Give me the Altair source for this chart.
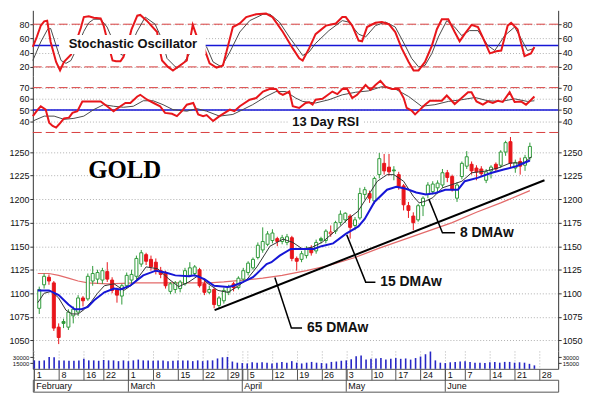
import altair as alt
import pandas as pd

# ---------------- data ----------------
tick_idx = [0, 5, 10, 14, 19, 24, 29, 34, 39, 42, 43, 48, 53, 58, 63, 68, 73, 78, 83, 87, 92, 97, 102]
tick_lbl = ["1", "8", "16", "22", "1", "8", "15", "22", "29", "", "5", "12", "19", "26",
            "3", "10", "17", "24", "1", "7", "14", "21", "28"]
grid_idx = [0, 5, 10, 14, 19, 24, 29, 34, 39, 43, 48, 53, 58, 63, 68, 73, 78, 83, 87, 92, 97, 102]
month_idx = [0, 19, 42, 63, 83]
month_lbl = ["February", "March", "April", "May", "June"]

opens = [1084, 1109, 1117, 1111, 1064, 1070, 1064, 1076, 1080, 1095,
         1094, 1113, 1115, 1114, 1123, 1114, 1104, 1097, 1108, 1114,
         1118, 1131, 1141, 1136, 1133, 1124, 1121, 1102, 1104, 1105,
         1110, 1119, 1121, 1125, 1110, 1101, 1104, 1087, 1092, 1101,
         1110, 1106, 1115, 1122, 1127, 1138, 1146, 1152, 1156, 1158,
         1155, 1154, 1159, 1137, 1136, 1140, 1148, 1145, 1158, 1156,
         1163, 1166, 1175, 1178, 1182, 1172, 1180, 1205, 1206, 1198,
         1226, 1238, 1234, 1231, 1226, 1214, 1193, 1182, 1178, 1193,
         1205, 1208, 1212, 1215, 1228, 1224, 1201, 1224, 1235, 1237,
         1233, 1232, 1220, 1230, 1237, 1236, 1250, 1261, 1233, 1240,
         1236, 1244]
highs = [1107, 1121, 1120, 1113, 1068, 1073, 1083, 1086, 1098, 1097,
         1121, 1129, 1125, 1127, 1133, 1117, 1106, 1110, 1122, 1125,
         1140, 1146, 1143, 1140, 1137, 1128, 1124, 1112, 1113, 1114,
         1127, 1133, 1130, 1127, 1113, 1108, 1106, 1097, 1106, 1109,
         1112, 1118, 1127, 1134, 1138, 1154, 1170, 1166, 1168, 1160,
         1162, 1163, 1161, 1139, 1145, 1150, 1151, 1157, 1160, 1168,
         1172, 1177, 1188, 1186, 1184, 1181, 1212, 1213, 1209, 1224,
         1249, 1248, 1248, 1235, 1229, 1216, 1197, 1186, 1195, 1203,
         1218, 1219, 1220, 1232, 1231, 1226, 1218, 1240, 1251, 1240,
         1236, 1235, 1232, 1236, 1239, 1252, 1262, 1266, 1242, 1244,
         1247, 1260]
lows = [1078, 1105, 1109, 1060, 1046, 1063, 1061, 1068, 1076, 1086,
        1092, 1108, 1110, 1110, 1112, 1100, 1090, 1088, 1105, 1110,
        1115, 1128, 1130, 1124, 1120, 1116, 1105, 1099, 1100, 1101,
        1108, 1117, 1118, 1106, 1098, 1099, 1084, 1083, 1089, 1098,
        1102, 1104, 1113, 1119, 1125, 1136, 1143, 1150, 1153, 1150,
        1152, 1151, 1134, 1124, 1133, 1137, 1140, 1142, 1153, 1153,
        1160, 1163, 1172, 1175, 1158, 1167, 1178, 1200, 1196, 1195,
        1222, 1226, 1225, 1220, 1210, 1188, 1180, 1167, 1176, 1182,
        1201, 1205, 1206, 1212, 1218, 1208, 1197, 1221, 1232, 1226,
        1220, 1224, 1217, 1222, 1229, 1233, 1246, 1233, 1228, 1226,
        1230, 1241]
closes = [1104, 1118, 1113, 1063, 1053, 1068, 1080, 1083, 1095, 1092,
          1118, 1121, 1122, 1124, 1115, 1103, 1098, 1108, 1119, 1120,
          1137, 1143, 1134, 1128, 1124, 1120, 1108, 1110, 1111, 1112,
          1124, 1127, 1128, 1108, 1101, 1104, 1088, 1095, 1103, 1107,
          1106, 1116, 1124, 1132, 1136, 1151, 1155, 1163, 1164, 1155,
          1159, 1160, 1137, 1134, 1142, 1147, 1143, 1154, 1156, 1166,
          1165, 1175, 1184, 1185, 1170, 1178, 1206, 1210, 1201, 1222,
          1243, 1230, 1229, 1230, 1213, 1194, 1188, 1175, 1193, 1201,
          1215, 1216, 1217, 1228, 1223, 1210, 1215, 1238, 1245, 1230,
          1229, 1227, 1229, 1234, 1232, 1250, 1260, 1238, 1239, 1235,
          1244, 1256]
volume = [22000, 21000, 22000, 31000, 30000, 22000, 22000, 21000, 21000, 22000,
          26000, 22000, 22000, 21000, 23000, 22000, 22000, 20000, 22000,
          20000, 22000, 24000, 22000, 22000, 21000, 22000, 22000, 20000, 21000,
          22000, 22000, 22000, 20000, 22000, 20000, 22000, 22000, 27000, 30000,
          31000, 19000, 16000,
          15000, 14000, 17000, 16000, 17000, 16000, 14000, 16000, 18000, 16000,
          20000, 16000, 14000, 16000, 18000, 16000, 15000, 14000, 18000, 19000, 21000,
          22000, 25000, 33000, 35000, 24000, 26000, 27000, 28000, 24000, 26000,
          28000, 26000, 27000, 24000, 28000, 32000, 38000, 45000, 22000, 16000,
          15000, 17000, 18000, 19000, 20000, 18000, 16000, 16000, 15000, 17000,
          18000, 16000, 18000, 18000, 16000, 17000, 16000, 13000, 9000]

ma8_i = [-0.3, 1, 2.5, 4, 5.5, 6.7, 8, 9.3, 10.7, 12, 13.4, 15.4, 17.4, 19.4, 22, 24.4, 26.7, 28.7,
         30.8, 32.8, 34.8, 36.8, 38.8, 40.8, 42.8, 44.8, 47.5, 50.2, 52.2, 54.2, 56.2, 58.2, 60.9,
         63.6, 65.6, 67.6, 69.6, 71.6, 73, 75, 77, 78.2, 79.6, 81, 83, 85, 87, 89, 91.7, 94.4, 97,
         99.7, 101.3]
ma8_v = [1090, 1100, 1102, 1095, 1082, 1078, 1078, 1083, 1091, 1100, 1108, 1110, 1103, 1110, 1128,
         1126, 1115, 1107, 1112, 1119, 1110, 1103, 1101, 1107, 1115, 1128, 1150, 1157.5, 1154, 1147,
         1149, 1154, 1166, 1179, 1187, 1203, 1219, 1226, 1226, 1219, 1203, 1196, 1198, 1201.5, 1212,
         1215.5, 1219, 1228, 1229.6, 1233, 1238.4, 1238.4, 1245]
ma15_i = [-0.3, 2, 4, 6, 7.3, 8.7, 10, 11.3, 13.4, 15.4, 16.7, 18.7, 21.4, 24, 26, 28, 30.8, 32, 34,
          36, 38.8, 40, 42, 44, 46.8, 47.8, 49.5, 51.8, 56.5, 58.1, 60.5, 63.1, 65.7, 67, 69, 71.6,
          73.5, 75.5, 77.6, 79.6, 81.6, 83.6, 86.2, 87.6, 90.2, 93, 95.6, 98.2, 101]
ma15_v = [1103, 1103, 1098, 1088, 1083, 1083, 1085.5, 1092.5, 1101, 1105, 1104, 1108, 1119, 1124,
          1122, 1119, 1118, 1119, 1115, 1108, 1106.6, 1108, 1112, 1117, 1131, 1133, 1140, 1147, 1147,
          1150, 1153, 1163, 1171, 1179, 1197, 1210, 1213, 1211, 1207, 1205, 1206.5, 1210, 1210, 1219,
          1222.6, 1227.8, 1231.4, 1234.9, 1241]
ma65_i = [-0.3, 2, 4, 6, 8, 10, 14, 20, 25, 30, 35, 38, 42, 46, 50, 55, 60, 65, 70, 75, 80, 85, 90, 95, 101]
ma65_v = [1121, 1121, 1119, 1116, 1113, 1111, 1110, 1111, 1111, 1111, 1111, 1112, 1114, 1116, 1119,
          1124, 1130, 1138, 1148, 1157, 1166, 1175, 1186, 1196, 1209]

trend_i = [36.1, 104]
trend_v = [1082, 1220]

ptr_grp = ["8", "8", "8", "15", "15", "15", "65", "65", "65"]
ptr_i = [80.2, 83.0, 85.6, 63.3, 67.2, 69.2, 48.5, 51.9, 54.1]
ptr_v = [1200, 1164.2, 1164.2, 1162, 1111.8, 1111.8, 1116.8, 1063, 1063]
ma_lbl_i = [86.6, 70.2, 55.1]
ma_lbl_v = [1164.2, 1111.8, 1063]
ma_lbl_t = ["8 DMAw", "15 DMAw", "65 DMAw"]

stk_i = [-0.3, 0.5, 1.3, 2, 2.6, 3.3, 4.4, 5.2, 6, 7.4, 8.4, 9.4, 10, 11, 12, 13.4, 14, 15, 15.8, 16.5,
         17.4, 18, 19, 19.6, 20.8, 21.4, 22.7, 24.8, 25.3, 25.8, 27, 28, 29.4, 30.8, 31.5, 32, 32.7,
         34.1, 35.4, 36.8, 38.1, 39.5, 40.1, 41.5, 42.8, 44.8, 46.8, 48.1, 50.2, 52.2, 53.5, 54.2,
         55.5, 56.8, 58.9, 60.9, 62.2, 62.9, 64.2, 65.5, 66.2, 67.2, 68.9, 70.2, 71.6, 72.9, 74.2,
         75.6, 76.6, 77.6, 78.9, 80.3, 81.3, 82.3, 83.6, 84.9, 85.9, 86.9, 88.3, 89.6, 91, 92, 93.3,
         94.3, 95.6, 96.3, 97.6, 99, 100.3, 101]
stk_v = [48, 62, 78, 84, 85, 55, 27, 15, 27, 37, 55, 75, 90, 91, 89, 88, 78, 50, 29, 28,
         28, 34, 55, 72, 92, 93, 85, 69, 45, 29, 20, 15, 22, 29, 60, 79, 65,
         50, 25, 19, 22, 60, 76, 81, 90, 94, 95, 90, 69, 46, 32, 29,
         46, 66, 78, 81, 90, 90, 78, 57, 56, 76, 82, 83, 80, 69, 46,
         27, 15, 15, 27, 50, 73, 87, 87, 69, 56, 66, 79, 76, 55, 39, 42,
         43, 78, 82, 73, 35, 39, 48]
std_i = [-0.3, 1.3, 2.7, 3.3, 4.4, 5.4, 6.4, 7.4, 8.5, 10, 11, 12, 13.4, 14.7, 16, 17.4, 18, 19.2,
         20.7, 22.4, 24.4, 25.7, 26.8, 28.8, 30.1, 31.5, 33, 34.8, 36.1, 37.8, 39.5, 41.5, 43.5,
         46.2, 47.6, 49.5, 51.5, 53.5, 54.2, 55.5, 56.8, 59.5, 62.2, 63.5, 65.5, 66.9, 68.9, 70.9,
         72.9, 74.9, 76.2, 77.6, 78.9, 80.3, 81.6, 83.3, 84.9, 86.3, 87.9, 89.6, 91.6, 93, 95, 97,
         98.3, 99.6, 101]
std_v = [29, 55, 73, 74, 50, 29, 25, 29, 45, 70, 82, 87, 87, 76, 55, 38, 36, 45,
         69, 90, 80, 60, 32, 18, 25, 40, 60, 48, 27, 20, 41, 69, 85,
         94, 94, 83, 62, 43, 36, 41, 53, 71, 85, 83, 66, 62, 78, 83,
         76, 50, 32, 20, 22, 39, 62, 85, 76, 64, 71, 71, 50, 43, 64, 76,
         60, 43, 46]

rsi_i = [-0.3, 0.7, 1.3, 2.3, 3, 3.7, 4.4, 5, 6, 7, 7.7, 8.7, 9.7, 11.4, 13.4, 14.7, 16, 17.4, 18.4,
         19.4, 20.8, 21.4, 22.8, 24.1, 25.4, 26.4, 27.8, 28.8, 29.8, 30.8, 32.1, 33.1, 34.1, 34.8,
         36.1, 37.4, 39.5, 40.4, 41.5, 43.5, 44.8, 46.2, 47.5, 48.8, 49.5, 50.2, 51.5, 52.2, 53.5,
         54.8, 55.5, 56.2, 56.8, 58.2, 60.2, 61.2, 62.2, 63.2, 64.2, 65.2, 66.9, 67.9, 68.9, 69.9,
         70.9, 72.2, 73.6, 74.6, 75.2, 76.2, 76.9, 77.9, 78.9, 79.9, 80.9, 82.3, 83.3, 84.9, 86.3,
         87.6, 88.3, 89.3, 90.6, 91.6, 92.6, 93.6, 94.6, 96, 97, 98.3, 99.3, 100, 101]
rsi_v = [44.6, 50.4, 53.4, 50.4, 38.8, 35.9, 34.4, 37.3, 42.6, 43.2, 47.5, 49, 57.7, 57.7, 57.7, 53.4,
         49, 53.4, 56.3, 56.3, 62.1, 63.6, 59.2, 56.3, 53.4, 47.5, 46.7, 44.6, 49, 54.8, 56.3, 46.1,
         44.6, 45.5, 40.2, 44.6, 50.4, 49, 53.4, 59.2, 60.7, 66.5, 68.8, 68.8, 65, 63.6, 66.5, 53.4,
         51.9, 56.3, 57, 54.8, 59.2, 60, 66.5, 64.2, 68.8, 68.8, 60.7, 63.6, 72.3, 68, 72.3, 76.1,
         70.9, 68.8, 68.8, 60.7, 51.9, 49.6, 46.1, 50.4, 54.8, 58.3, 58.3, 58.3, 63, 55.4, 60.7,
         65.9, 65.9, 57.7, 54.8, 57.7, 56.3, 58.3, 57.2, 65.9, 57.2, 57.7, 54.8, 57.7, 62.1]
rsig_i = [-0.3, 2, 4, 6, 8, 10, 12, 14, 16, 18, 20, 22, 24, 26, 28, 30.8, 32.8, 34.8, 37.4, 40.1,
          42.1, 44.1, 46.8, 48.8, 50.8, 52.8, 54.2, 56.8, 59.5, 62.2, 64.9, 67.5, 70.2, 72.9, 75.6,
          78.2, 80.9, 83.6, 86.3, 89, 91.6, 94.3, 97, 99.6, 101]
rsig_v = [40.2, 44.6, 44.6, 41.7, 42.6, 44.6, 50.4, 54.8, 53.4, 52.5, 53.4, 58.3, 58.3, 54.8, 50.4,
          49, 51.3, 49, 44.6, 46.1, 50.4, 54.8, 62.1, 66.5, 66.5, 60.7, 57.7, 56.3, 59.2, 63.6,
          65.9, 67.1, 70.9, 68.8, 62.1, 53.4, 54.8, 57.7, 59.2, 61.2, 58.3, 57.7, 60, 57.7, 58.3]

# ---------------- styling ----------------
W = 529
H_ST, H_RSI, H_PR, H_VOL, H_TK, H_MO = 66, 57, 220, 18, 11, 12
FONT = "Liberation Sans"
RED = "#e8161b"
GREEN = "#2f9a3a"
BLUE = "#1616d6"
DRED = "#d9403f"
GRAY = "#4a4a4a"
GRID = "#b0b0b0"

xsc = alt.Scale(domain=[-0.3, 105.8], nice=False, zero=False)
st_sc = alt.Scale(domain=[7.4, 99.5], nice=False, zero=False)
rsi_sc = alt.Scale(domain=[30, 80.5], nice=False, zero=False)
pr_sc = alt.Scale(domain=[1038.7, 1270.8], nice=False, zero=False)
vol_sc = alt.Scale(domain=[0, 46500], nice=False, zero=False)

label_expr = ("[" + ",".join("'%s'" % s for s in tick_lbl) + "][indexof(["
              + ",".join(str(i) for i in tick_idx) + "], datum.value)]")


def X(field, axis=None):
    return alt.X(field, type="quantitative", scale=xsc, axis=axis)


def Y(field, sc):
    return alt.Y(field, type="quantitative", scale=sc, axis=None)


grid_x_axis = alt.Axis(values=grid_idx, labels=False, ticks=False, domain=False, grid=True,
                       gridDash=[1, 2], gridColor=GRID, title=None)

date_axis = alt.Axis(values=tick_idx, labelExpr=label_expr, grid=True, gridDash=[1, 2],
                     gridColor=GRID, tickSize=11, tickColor="#555", domainColor="#555",
                     labelAlign="left", labelBaseline="top", labelPadding=-9, labelOffset=2,
                     labelFontSize=9, labelFont=FONT, labelColor="#111", title=None,
                     labelFlush=False, labelOverlap=False, labelBound=False)


def yaxis(orient, values, grid=False, fs=9, fmt="d"):
    kw = dict(orient=orient, values=values, title=None, tickSize=3, labelPadding=1,
              labelFontSize=fs, labelFont=FONT, labelColor="#111", tickColor="#333",
              domainColor="#333", grid=grid, labelFlush=False, labelOverlap=False,
              labelBound=False, format=fmt)
    if grid:
        kw.update(gridDash=[1, 2], gridColor=GRID)
    return alt.Axis(**kw)


def axis_layers(ticks, sc, grid=False, fs=9):
    d = pd.DataFrame({"v": ticks})
    base = alt.Chart(d).mark_point(opacity=0)
    return [
        base.encode(y=alt.Y("v", type="quantitative", scale=sc, axis=yaxis("left", ticks, grid, fs))),
        base.encode(y=alt.Y("v", type="quantitative", scale=sc, axis=yaxis("right", ticks, False, fs))),
    ]


# ---------------- stochastic ----------------
stk = pd.DataFrame({"i": stk_i, "v": stk_v})
std = pd.DataFrame({"i": std_i, "v": std_v})
stoch = alt.layer(
    *axis_layers([20, 40, 60, 80], st_sc, grid=True),
    alt.Chart(pd.DataFrame({"v": [20, 80]})).mark_rule(color=DRED, strokeDash=[9, 4], strokeWidth=1)
    .encode(y=Y("v", st_sc)),
    alt.Chart(pd.DataFrame({"v": [50]})).mark_rule(color=BLUE, strokeWidth=1.5).encode(y=Y("v", st_sc)),
    alt.Chart(std).mark_line(color=GRAY, strokeWidth=1).encode(x=X("i", grid_x_axis), y=Y("v", st_sc)),
    alt.Chart(stk).mark_line(color=RED, strokeWidth=2).encode(x=X("i"), y=Y("v", st_sc)),
    alt.Chart(pd.DataFrame({"x1": [5.0], "x2": [34.6], "y1": [38], "y2": [65]})).mark_rect(color="white")
    .encode(x=X("x1"), x2="x2", y=Y("y1", st_sc), y2="y2"),
    alt.Chart(pd.DataFrame({"i": [19.9], "v": [52], "t": ["Stochastic Oscillator"]}))
    .mark_text(font=FONT, fontSize=13, fontWeight="bold", color="#111", align="center", baseline="middle")
    .encode(x=X("i"), y=Y("v", st_sc), text="t"),
).resolve_axis(y="independent").properties(width=W, height=H_ST)

# ---------------- RSI ----------------
rsi = pd.DataFrame({"i": rsi_i, "v": rsi_v})
rsig = pd.DataFrame({"i": rsig_i, "v": rsig_v})
rsi_chart = alt.layer(
    *axis_layers([40, 50, 60, 70], rsi_sc, grid=True),
    alt.Chart(pd.DataFrame({"v": [30, 70]})).mark_rule(color=DRED, strokeDash=[9, 4], strokeWidth=1)
    .encode(y=Y("v", rsi_sc)),
    alt.Chart(pd.DataFrame({"v": [50]})).mark_rule(color=BLUE, strokeWidth=1.5).encode(y=Y("v", rsi_sc)),
    alt.Chart(rsig).mark_line(color=GRAY, strokeWidth=1).encode(x=X("i", grid_x_axis), y=Y("v", rsi_sc)),
    alt.Chart(rsi).mark_line(color=RED, strokeWidth=2).encode(x=X("i"), y=Y("v", rsi_sc)),
    alt.Chart(pd.DataFrame({"x1": [51.3], "x2": [66.5], "y1": [31.5], "y2": [46.5]})).mark_rect(color="white")
    .encode(x=X("x1"), x2="x2", y=Y("y1", rsi_sc), y2="y2"),
    alt.Chart(pd.DataFrame({"i": [52.1], "v": [39.1], "t": ["13 Day RSI"]}))
    .mark_text(font=FONT, fontSize=13, fontWeight="bold", color="#111", align="left", baseline="middle")
    .encode(x=X("i"), y=Y("v", rsi_sc), text="t"),
).resolve_axis(y="independent").properties(width=W, height=H_RSI)

# ---------------- price ----------------
cdf = pd.DataFrame({"i": list(range(len(closes))), "o": opens, "h": highs, "l": lows, "c": closes})
prev = cdf["c"].shift(1).fillna(cdf["o"])
cdf["col"] = [GREEN if c >= p else RED for c, p in zip(cdf["c"], prev)]
cdf["fillc"] = ["white" if c >= o else col for c, o, col in zip(cdf["c"], cdf["o"], cdf["col"])]

price = alt.layer(
    *axis_layers([1050, 1075, 1100, 1125, 1150, 1175, 1200, 1225, 1250], pr_sc, grid=True),
    alt.Chart(pd.DataFrame({"i": ma65_i, "v": ma65_v})).mark_line(color="#e36a6a", strokeWidth=1.2)
    .encode(x=X("i", grid_x_axis), y=Y("v", pr_sc)),
    alt.Chart(cdf).mark_rule(strokeWidth=1)
    .encode(x=X("i"), y=Y("l", pr_sc), y2="h", color=alt.Color("col:N", scale=None)),
    alt.Chart(cdf).mark_bar(size=3, strokeWidth=1)
    .encode(x=X("i"), y=Y("o", pr_sc), y2="c", fill=alt.Fill("fillc:N", scale=None),
            stroke=alt.Stroke("col:N", scale=None)),
    alt.Chart(pd.DataFrame({"i": ma8_i, "v": ma8_v})).mark_line(color="#333333", strokeWidth=1)
    .encode(x=X("i"), y=Y("v", pr_sc)),
    alt.Chart(pd.DataFrame({"i": ma15_i, "v": ma15_v})).mark_line(color=BLUE, strokeWidth=2)
    .encode(x=X("i"), y=Y("v", pr_sc)),
    alt.Chart(pd.DataFrame({"i": trend_i, "v": trend_v})).mark_line(color="black", strokeWidth=2)
    .encode(x=X("i"), y=Y("v", pr_sc)),
    alt.Chart(pd.DataFrame({"g": ptr_grp, "o": [0, 1, 2] * 3, "i": ptr_i, "v": ptr_v}))
    .mark_line(color="black", strokeWidth=1.5)
    .encode(x=X("i"), y=Y("v", pr_sc), detail="g:N", order="o:Q"),
    alt.Chart(pd.DataFrame({"i": ma_lbl_i, "v": ma_lbl_v, "t": ma_lbl_t}))
    .mark_text(font=FONT, fontSize=14, fontWeight="bold", color="#111", align="left", baseline="middle")
    .encode(x=X("i"), y=Y("v", pr_sc), text="t"),
    alt.Chart(pd.DataFrame({"i": [17.6], "v": [1230.7], "t": ["GOLD"]}))
    .mark_text(font="Liberation Serif", fontSize=25, fontWeight="bold", color="black",
               align="center", baseline="middle")
    .encode(x=X("i"), y=Y("v", pr_sc), text="t"),
).resolve_axis(y="independent").properties(width=W, height=H_PR)

# ---------------- volume ----------------
vdf = pd.DataFrame({"i": list(range(len(volume))), "v": volume})
vol = alt.layer(
    *axis_layers([15000, 30000], vol_sc, grid=False, fs=6),
    alt.Chart(vdf).mark_rule(color="#2626c4", strokeWidth=1.6)
    .encode(x=X("i", date_axis), y=Y("v", vol_sc), y2=alt.datum(0)),
).resolve_axis(y="independent").properties(width=W, height=H_VOL)

# ---------------- date rows ----------------
mdf = pd.DataFrame({"i": month_idx, "t": month_lbl})
tickrow = alt.Chart(mdf).mark_rule(color="#555", strokeWidth=1).encode(x=X("i")).properties(
    width=W, height=H_TK)
month = alt.layer(
    alt.Chart(mdf).mark_rule(color="#555", strokeWidth=1).encode(x=X("i")),
    alt.Chart(mdf).mark_text(align="left", baseline="middle", dx=2, fontSize=9, font=FONT, color="#111")
    .encode(x=X("i"), y=alt.value(6), text="t"),
).properties(width=W, height=H_MO, view=alt.ViewBackground(stroke="#555", strokeWidth=1))

chart = alt.vconcat(stoch, rsi_chart, price, vol, tickrow, month, spacing=0, bounds="flush") \
    .properties(padding=0, background="white") \
    .configure_view(strokeWidth=0)

chart.save("out.html", embed_options={"renderer": "svg", "actions": False})
